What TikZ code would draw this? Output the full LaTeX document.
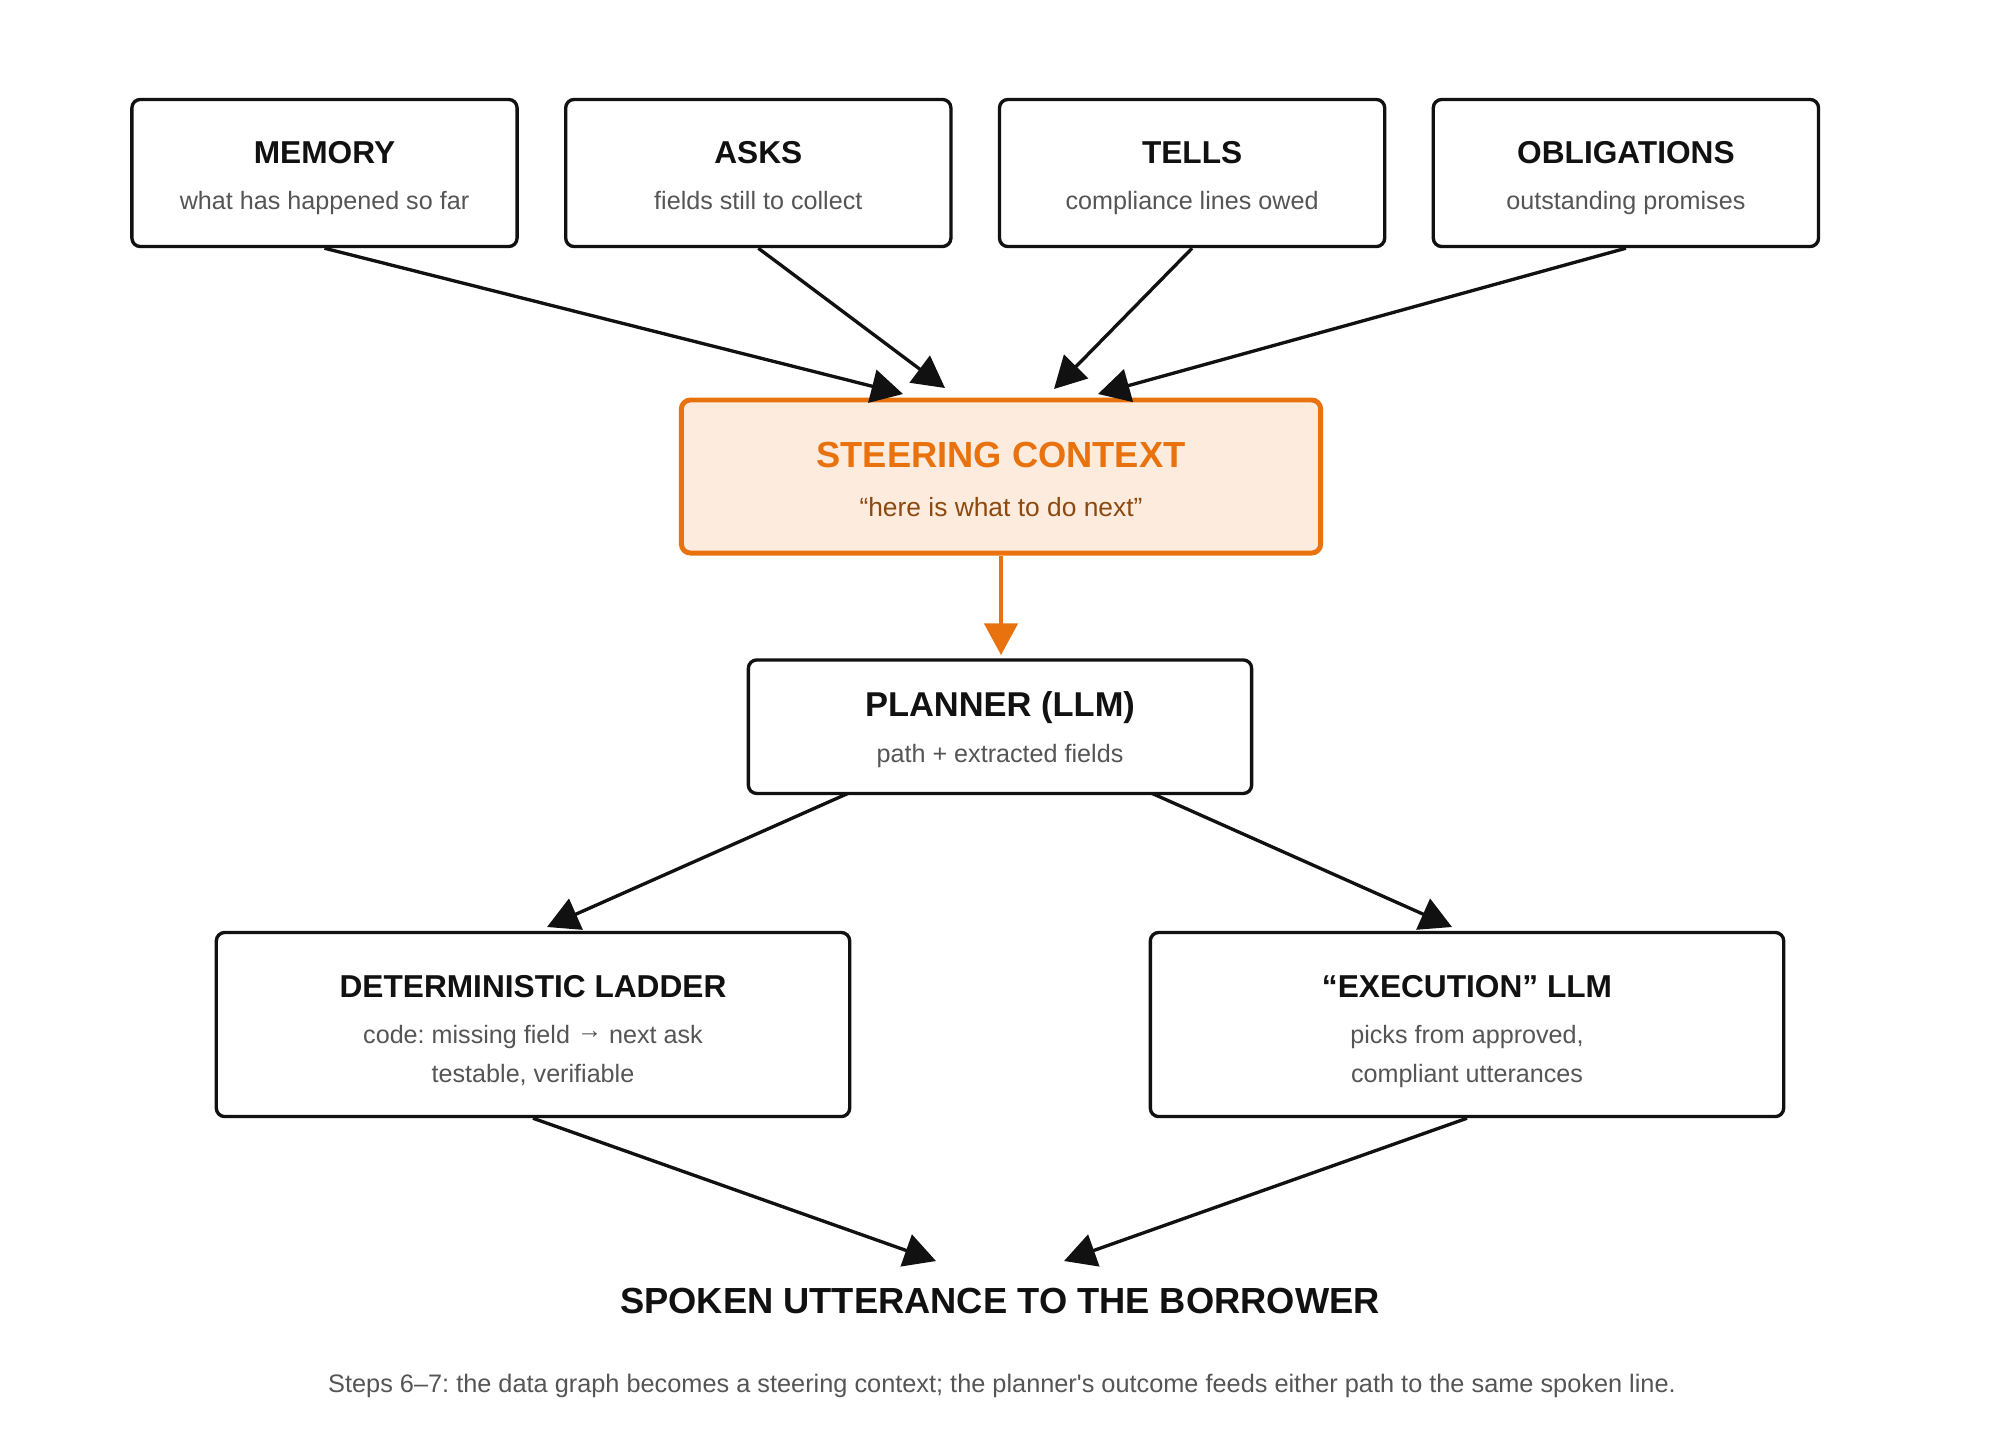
\documentclass[tikz,border=0pt]{standalone}
\usepackage{fontspec}
\newfontfamily\lsans{Liberation Sans}
\usetikzlibrary{arrows.meta}
\definecolor{ink}{HTML}{111111}
\definecolor{subgray}{HTML}{555555}
\definecolor{orng}{HTML}{E8730E}
\definecolor{orngfill}{HTML}{FDEBDD}
\definecolor{brwn}{HTML}{8B4A12}
\tikzset{
  box/.style={draw=ink, line width=0.95pt, rounded corners=2.4pt, fill=white, inner sep=0pt},
  hotbox/.style={draw=orng, line width=1.4pt, rounded corners=2.6pt, fill=orngfill, inner sep=0pt},
  ttl/.style={anchor=base, inner sep=0pt, text=ink, font=\lsans\frenchspacing\fontsize{9}{11}\selectfont\bfseries},
  bigttl/.style={anchor=base, inner sep=0pt, text=ink, font=\lsans\frenchspacing\fontsize{10.32}{12}\selectfont\bfseries},
  sub/.style={anchor=base, inner sep=0pt, text=subgray, font=\lsans\frenchspacing\fontsize{7.15}{9}\selectfont},
  conn/.style={draw=ink, line width=0.95pt, -{Triangle[length=9pt, width=9.5pt]}},
  hotconn/.style={draw=orng, line width=0.95pt, -{Triangle[length=9pt, width=9.5pt]}},
}
\begin{document}
\begin{tikzpicture}[x=0.01cm, y=-0.01cm]
\useasboundingbox (0,0) rectangle (2000,1433);

% top row
\node[box, minimum width=3.85cm, minimum height=1.47cm] (mem) at (324.5,173) {};
\node[box, minimum width=3.85cm, minimum height=1.47cm] (asks) at (758.3,173) {};
\node[box, minimum width=3.85cm, minimum height=1.47cm] (tells) at (1192.1,173) {};
\node[box, minimum width=3.85cm, minimum height=1.47cm] (obl) at (1625.9,173) {};
\node[ttl] (memT) at (324.5,163) {MEMORY};
\node[sub] (memS) at (324.5,209) {what has happened so far};
\node[ttl] (asksT) at (758.3,163) {ASKS};
\node[sub] (asksS) at (758.3,209) {fields still to collect};
\node[ttl] (tellsT) at (1192.1,163) {TELLS};
\node[sub] (tellsS) at (1192.1,209) {compliance lines owed};
\node[ttl] (oblT) at (1625.9,163) {OBLIGATIONS};
\node[sub] (oblS) at (1625.9,209) {outstanding promises};

% steering context
\node[hotbox, minimum width=6.39cm, minimum height=1.53cm] (steer) at (1001,476.5) {};
\node[bigttl, text=orng] (steerT) at (1001,467) {STEERING CONTEXT};
\node[sub, text=brwn, font=\lsans\frenchspacing\fontsize{7.5}{9}\selectfont] (steerS) at (1001,516) {“here is what to do next”};

% planner
\node[box, minimum width=5.03cm, minimum height=1.335cm] (plan) at (1000,726.7) {};
\node[bigttl, font=\lsans\fontsize{9.8}{12}\selectfont\bfseries] (planT) at (1000,716.7) {PLANNER (LLM)};
\node[sub] (planS) at (1000,762.7) {path + extracted fields};

% ladder and execution
\node[box, minimum width=6.33cm, minimum height=1.84cm] (lad) at (533,1024.5) {};
\node[ttl] (ladT) at (533,997) {DETERMINISTIC LADDER};
\node[sub] (ladS1) at (533,1043) {code: missing field \raisebox{1.3pt}{→} next ask};
\node[sub] (ladS2) at (533,1082) {testable, verifiable};

\node[box, minimum width=6.33cm, minimum height=1.84cm] (exe) at (1467,1024.5) {};
\node[ttl] (exeT) at (1467,997) {“EXECUTION” LLM};
\node[sub] (exeS1) at (1467,1043) {picks from approved,};
\node[sub] (exeS2) at (1467,1082) {compliant utterances};

% output and caption
\node[bigttl] (spoken) at (1000,1313) {SPOKEN UTTERANCE TO THE BORROWER};
\node[sub, font=\lsans\frenchspacing\fontsize{7.2}{9}\selectfont] (cap) at (1002,1392) {Steps 6–7: the data graph becomes a steering context; the planner's outcome feeds either path to the same spoken line.};

% arrow endpoints
\coordinate (inM) at (903,394);
\coordinate (inA) at (945,388);
\coordinate (inT) at (1054,389);
\coordinate (inO) at (1098,394);
\coordinate (outL) at (848,793.4);
\coordinate (outR) at (1152,793.4);
\coordinate (inL) at (547,927);
\coordinate (inR) at (1452,927);
\coordinate (inS1) at (936,1261);
\coordinate (inS2) at (1064,1261);
\coordinate (inP) at (1001,655);

\draw[conn] (mem.south) -- (inM);
\draw[conn] (asks.south) -- (inA);
\draw[conn] (tells.south) -- (inT);
\draw[conn] (obl.south) -- (inO);
\draw[hotconn] (steer.south) -- (inP);
\draw[conn] (outL) -- (inL);
\draw[conn] (outR) -- (inR);
\draw[conn] (lad.south) -- (inS1);
\draw[conn] (exe.south) -- (inS2);
\end{tikzpicture}
\end{document}
